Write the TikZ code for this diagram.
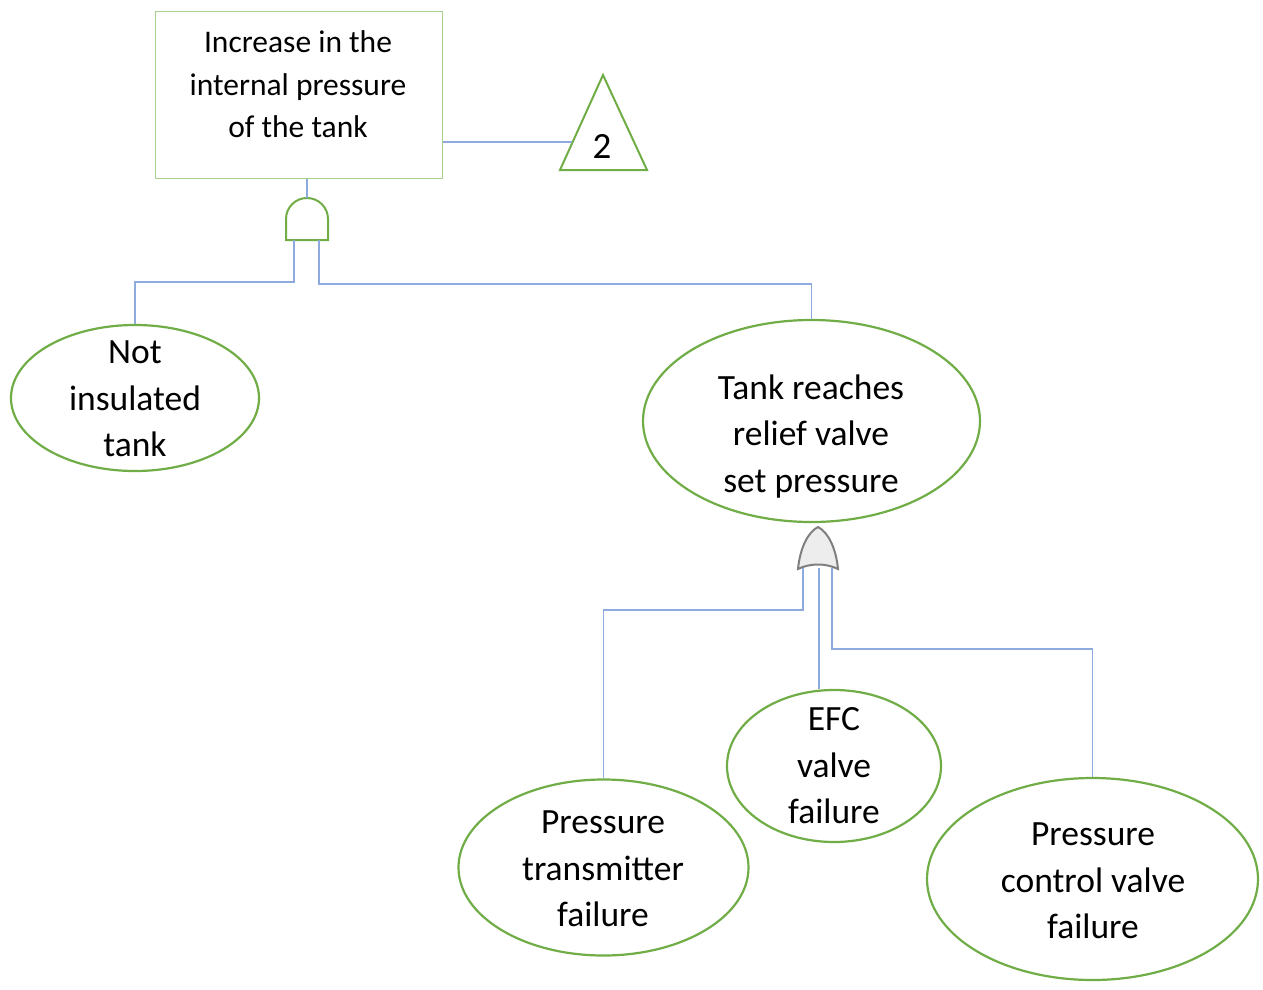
\documentclass[tikz,border=0pt]{standalone}
\usepackage{fontspec}
\setmainfont{Carlito}
\usetikzlibrary{shapes.geometric}
\definecolor{egreen}{HTML}{70AD47}
\definecolor{bgreen}{HTML}{A9D18E}
\definecolor{connc}{HTML}{8FAADC}
\definecolor{orfill}{HTML}{EDEDED}
\definecolor{orline}{HTML}{7F7F7F}
\begin{document}
\begin{tikzpicture}[x=1pt,y=-1pt,
  evt/.style={ellipse,draw=egreen,line width=2.2pt,fill=white,inner sep=0pt},
  evtext/.style={align=center,inner sep=0pt,font=\fontsize{35.5}{46.5}\selectfont},
  boxtext/.style={align=center,inner sep=0pt,font=\fontsize{31.5}{42.5}\selectfont},
  topbox/.style={draw=bgreen,line width=1pt,fill=white,inner sep=0pt},
  conn/.style={draw=connc,line width=1.3pt},
  andgate/.style={draw=egreen,line width=2pt,fill=white},
  orgate/.style={draw=orline,line width=2pt,fill=orfill},
  tri/.style={draw=egreen,line width=2pt,fill=white,line join=miter}]
\useasboundingbox (0,0) rectangle (1263,990);

% top event box
\node[topbox,minimum width=287pt,minimum height=166pt] (top) at (298.5,95) {};
\node[boxtext] (topT) at (298,84.5) {Increase in the\\internal pressure\\of the tank};

% transfer triangle
\draw[tri] (603,75) -- (647,170) -- (560,170) -- cycle;
\coordinate (triL) at (572,142);
\node[inner sep=0pt,font=\fontsize{37}{37}\selectfont] (triT) at (602,146) {2};

% AND gate
\draw[andgate] (286,240) -- (286,219) arc[start angle=180,end angle=0,radius=21pt] -- (328,240) -- cycle;
\coordinate (andTop) at (307,198);
\coordinate (andL) at (294,240);
\coordinate (andR) at (319,240);

% events
\node[evt,minimum width=248pt,minimum height=146pt] (notE) at (135,398) {};
\node[evtext] (notT) at (135,399) {Not\\insulated\\tank};

\node[evt,minimum width=337pt,minimum height=202pt] (tankE) at (811.5,421) {};
\node[evtext] (tankT) at (811,436.5) {Tank reaches\\relief valve\\set pressure};

% OR gate
\draw[orgate] (798,569) .. controls (800,548) and (808,532) .. (818,527)
  .. controls (828,532) and (836,548) .. (838,569)
  .. controls (826,563) and (810,563) .. (798,569) -- cycle;
\coordinate (orL) at (803,568);
\coordinate (orM) at (819,568);
\coordinate (orR) at (832,568);

\node[evt,minimum width=290pt,minimum height=176pt] (ptE) at (603.5,867.5) {};
\node[evtext] (ptT) at (603,869) {Pressure\\transmitter\\failure};

\node[evt,minimum width=214pt,minimum height=152pt] (efcE) at (834,766) {};
\node[evtext] (efcT) at (834,766) {EFC\\valve\\failure};

\node[evt,minimum width=331pt,minimum height=202pt] (pcvE) at (1092.5,879) {};
\node[evtext] (pcvT) at (1093,881) {Pressure\\control valve\\failure};

% connectors
\draw[conn] (andTop |- top.south) -- (andTop);
\draw[conn] (top.east |- triL) -- (triL);
\draw[conn] (andL) -- ++(0,42) -| (notE.north);
\draw[conn] (andR) -- ++(0,44) -| (tankE.north);
\draw[conn] (orL) -- ++(0,42) -| (ptE.north);
\draw[conn] (orM) -- (orM |- efcE.north);
\draw[conn] (orR) -- ++(0,81) -| (pcvE.north);
\end{tikzpicture}
\end{document}
